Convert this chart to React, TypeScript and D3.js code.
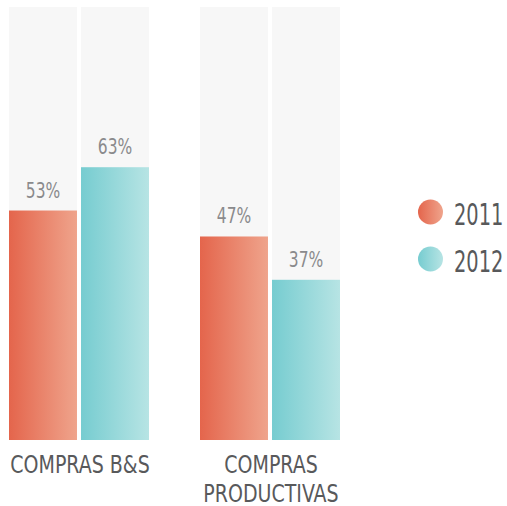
import React from 'react';
import * as d3 from 'd3';

const categories = [['COMPRAS B&S'], ['COMPRAS', 'PRODUCTIVAS']];
const years = ['2011', '2012'];
const values2011 = [53, 47];
const values2012 = [63, 37];

const W = 507;
const H = 506;
const FONT = '"DejaVu Sans Condensed", "DejaVu Sans", sans-serif';

const gradients = [
  { id: 'g2011', from: '#e4654c', to: '#efa48c' },
  { id: 'g2012', from: '#76ccd0', to: '#b7e4e4' },
];

// condensed text: squeeze horizontally around its anchor point
const Label = ({ x, y, sx, size, fill, anchor = 'middle', children }: any) => (
  <text
    transform={`translate(${x},${y}) scale(${sx},1)`}
    textAnchor={anchor}
    fontFamily={FONT}
    fontSize={size}
    fill={fill}
  >
    {children}
  </text>
);

const App = () => {
  const keys = categories.map(c => c.join(' '));
  const x0 = d3.scaleBand().domain(keys).range([9, 340]).paddingInner(0.267);
  const x1 = d3.scaleBand().domain(years).range([0, x0.bandwidth()]).paddingInner(0.056);
  const y = d3.scaleLinear().domain([0, 100]).range([440, 7]);

  const series = [values2011, values2012];

  return (
    <svg width={W} height={H} style={{ position: 'absolute', left: 0, top: 0 }}>
      <defs>
        {gradients.map(g => (
          <linearGradient key={g.id} id={g.id} x1="0" x2="1" y1="0" y2="0">
            <stop offset="0%" stopColor={g.from} />
            <stop offset="100%" stopColor={g.to} />
          </linearGradient>
        ))}
      </defs>

      {keys.map((k, i) => (
        <g key={k} transform={`translate(${x0(k)},0)`}>
          {years.map((yr, j) => {
            const v = series[j][i];
            const bx = x1(yr)!;
            const bw = x1.bandwidth();
            return (
              <g key={yr}>
                <rect x={bx} y={y(100)} width={bw} height={y(0) - y(100)} fill="#f7f7f7" />
                <rect x={bx} y={y(v)} width={bw} height={y(0) - y(v)} fill={`url(#${gradients[j].id})`} />
                <Label x={bx + bw / 2} y={y(v) - 13} sx={0.82} size={21} fill="#8a8a8c">
                  {v}%
                </Label>
              </g>
            );
          })}
          {categories[i].map((line, li) => (
            <Label key={line} x={x0.bandwidth() / 2 + 1} y={473 + li * 29} sx={0.88} size={24} fill="#58595b">
              {line}
            </Label>
          ))}
        </g>
      ))}

      {years.map((yr, j) => (
        <g key={yr} transform={`translate(0,${212 + j * 47})`}>
          <circle cx={430.5} cy={0} r={12.5} fill={`url(#${gradients[j].id})`} />
          <Label x={454} y={13} sx={0.72} size={30} fill="#58595b" anchor="start">
            {yr}
          </Label>
        </g>
      ))}
    </svg>
  );
};

export default App;
